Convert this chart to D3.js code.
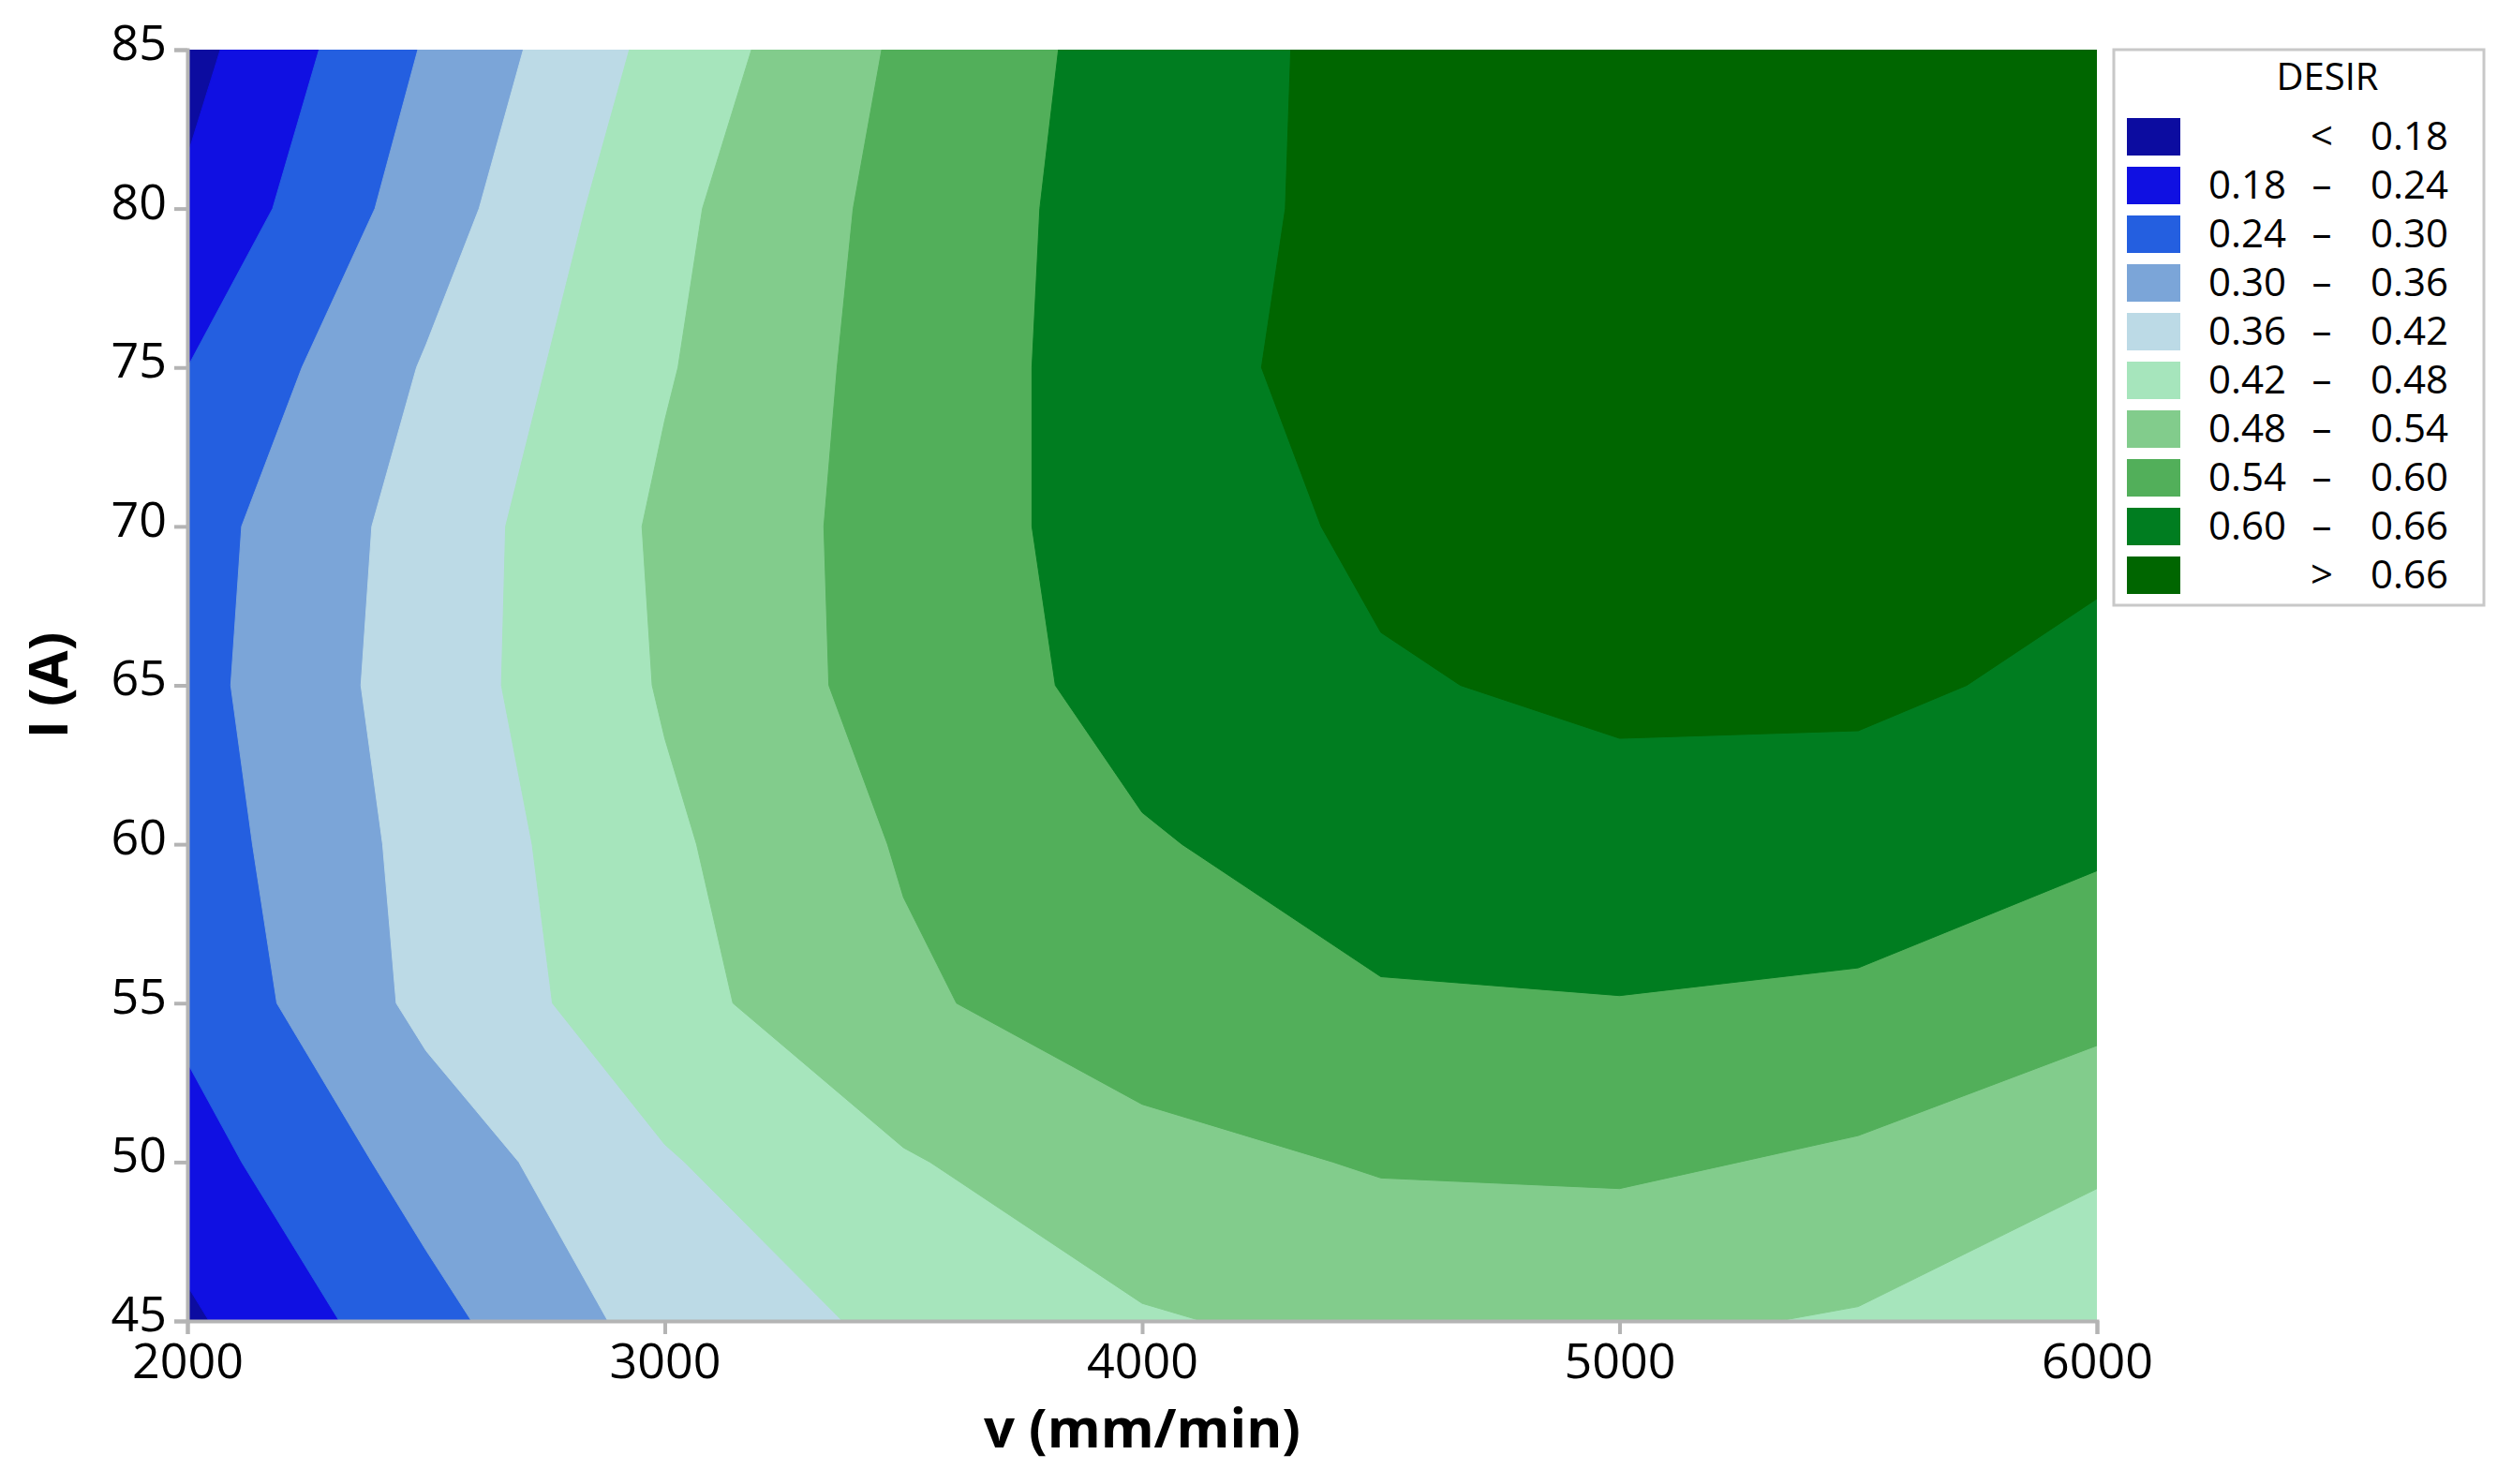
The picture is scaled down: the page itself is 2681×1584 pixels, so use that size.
<!DOCTYPE html>
<html><head><meta charset="utf-8">
<script src="https://cdn.jsdelivr.net/npm/d3@7"></script>
<style>body{margin:0;background:#fff}text{font-family:"Open Sans","Noto Sans",sans-serif}</style>
</head><body><svg id="c" width="2681" height="1584"></svg>
<script>
const vValues=[2000,2500,3000,3500,4000,4500,5000,5500,6000];
const iValues=[45,50,55,60,65,70,75,80,85];
// desirability rows, one per I value (bottom to top), across v values
const desir45=[0.17,0.28,0.385,0.432,0.475,0.495,0.49,0.475,0.455];
const desir50=[0.215,0.325,0.415,0.475,0.52,0.545,0.55,0.53,0.485];
const desir55=[0.255,0.375,0.46,0.53,0.575,0.595,0.598,0.59,0.56];
const desir60=[0.27,0.38,0.47,0.545,0.595,0.625,0.64,0.635,0.608];
const desir65=[0.28,0.39,0.485,0.565,0.62,0.655,0.67,0.67,0.648];
const desir70=[0.275,0.385,0.49,0.565,0.63,0.67,0.69,0.69,0.67];
const desir75=[0.24,0.365,0.475,0.565,0.63,0.69,0.70,0.70,0.69];
const desir80=[0.19,0.33,0.465,0.56,0.63,0.68,0.70,0.70,0.69];
const desir85=[0.16,0.305,0.44,0.55,0.627,0.68,0.69,0.69,0.68];
const levels=[0.18,0.24,0.30,0.36,0.42,0.48,0.54,0.60,0.66];
const legendLow=["","0.18","0.24","0.30","0.36","0.42","0.48","0.54","0.60",""];
const legendSep=["<","–","–","–","–","–","–","–","–",">"];
const legendHigh=["0.18","0.24","0.30","0.36","0.42","0.48","0.54","0.60","0.66","0.66"];
const bandColors=["#0c0ca0","#1010e2","#245fe0","#7ba5d8","#bcdae6","#a6e5bc","#82cc8c","#52af5a","#007d20","#006600"];
const xTicks=[2000,3000,4000,5000,6000];
const yTicks=[45,50,55,60,65,70,75,80,85];

const rows=[desir45,desir50,desir55,desir60,desir65,desir70,desir75,desir80,desir85];
const nx=vValues.length, ny=iValues.length;
const grid=[]; rows.forEach(r=>r.forEach(v=>grid.push(v)));
const L=200,R=2238,T=53,B=1410;
const x=d3.scaleLinear().domain([2000,6000]).range([L,R]);
const y=d3.scaleLinear().domain([45,85]).range([B,T]);
const gx=d3.scaleLinear().domain([0.5,nx-0.5]).range([x(vValues[0]),x(vValues[nx-1])]);
const gy=d3.scaleLinear().domain([0.5,ny-0.5]).range([y(iValues[0]),y(iValues[ny-1])]);
const svg=d3.select("#c");
svg.append("clipPath").attr("id","cp").append("rect").attr("x",L).attr("y",T).attr("width",R-L).attr("height",B-T);
const contours=d3.contours().size([nx,ny]).smooth(true).thresholds([-1,...levels])(grid);
const path=d3.geoPath(d3.geoTransform({point(px,py){this.stream.point(gx(px),gy(py));}}));
svg.append("g").attr("clip-path","url(#cp)").selectAll("path").data(contours).join("path")
 .attr("d",path).attr("fill",(d,i)=>bandColors[i]).attr("stroke",(d,i)=>bandColors[i]).attr("stroke-width",1);
const ax=svg.append("g").attr("transform",`translate(0,${B})`).call(d3.axisBottom(x).tickValues(xTicks).tickSize(14).tickPadding(10).tickFormat(d3.format("d")));
const ay=svg.append("g").attr("transform",`translate(${L},0)`).call(d3.axisLeft(y).tickValues(yTicks).tickSize(14).tickPadding(8));
[ax,ay].forEach(a=>{a.selectAll("path,line").attr("stroke","#b4b4b4").attr("stroke-width",4);a.selectAll("text").attr("font-size",52).attr("fill","#000").attr("font-family","Open Sans");});
ay.selectAll("text").attr("dy","0.2em");
svg.append("text").attr("x",(L+R)/2).attr("y",1545).attr("text-anchor","middle").attr("font-size",58).attr("font-weight","bold").text("v (mm/min)");
svg.append("text").attr("transform",`translate(72,${(T+B)/2}) rotate(-90)`).attr("text-anchor","middle").attr("font-size",58).attr("font-weight","bold").text("I (A)");
// legend
const lg=svg.append("g");
lg.append("rect").attr("x",2256).attr("y",53).attr("width",395).attr("height",593).attr("fill","#fff").attr("stroke","#c8c8c8").attr("stroke-width",3);
lg.append("text").attr("x",2484).attr("y",96).attr("text-anchor","middle").attr("font-size",40).text("DESIR");
bandColors.forEach((c,i)=>{
 const yy=126+i*52;
 lg.append("rect").attr("x",2270).attr("y",yy).attr("width",57).attr("height",40).attr("fill",c);
 lg.append("text").attr("x",2440).attr("y",yy+34).attr("text-anchor","end").attr("font-size",42).text(legendLow[i]);
 lg.append("text").attr("x",2478).attr("y",yy+34).attr("text-anchor","middle").attr("font-size",42).text(legendSep[i]);
 lg.append("text").attr("x",2613).attr("y",yy+34).attr("text-anchor","end").attr("font-size",42).text(legendHigh[i]);
});
</script></body></html>
